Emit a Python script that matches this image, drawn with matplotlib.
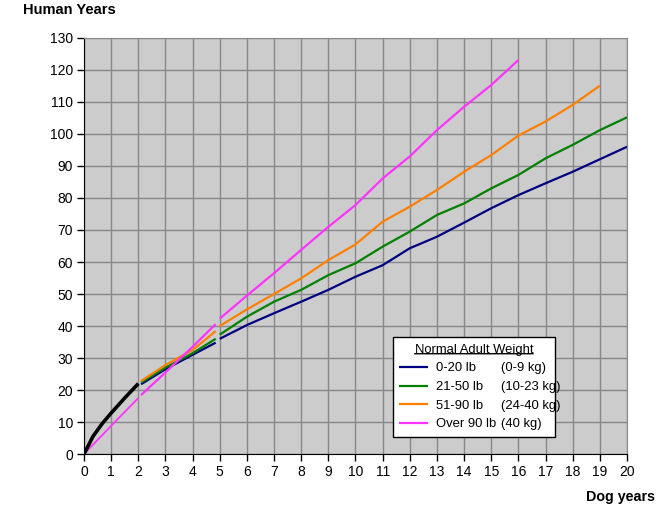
import numpy as np
import matplotlib
matplotlib.use("Agg")
from matplotlib import pyplot as plt

plt.rcParams['font.family'] = ['Liberation Sans', 'DejaVu Sans']
plt.rcParams['font.size'] = 10

# puppy years (shared by all sizes) and the thin giant-breed line below it
puppy_years = [0, 0.33, 0.67, 1, 1.5, 2]
puppy_human = [0, 5.5, 9.5, 12.8, 17.5, 22]
giant_pup_years = [0, 1, 2]
giant_pup_human = [0, 8.8, 17.5]

# adult segments: 2-5 years, then 5+ years (gap in between)
early_years = [2.1, 3, 4, 4.85]
late_years = list(range(5, 21))

small_early = [21.8, 26.5, 31, 34.8]
small_late = [36, 40.3, 44, 47.6, 51.3, 55.4, 59, 64.3, 67.9, 72.3, 76.8, 80.9,
              84.6, 88.2, 92.1, 96]

medium_early = [22.3, 27, 31.5, 36]
medium_late = [37.3, 42.9, 47.6, 51.3, 55.9, 59.6, 64.8, 69.5, 74.7, 78.3, 83,
               87.2, 92.4, 96.6, 101.2, 105.2]

large_early = [22.8, 27.8, 32.5, 38.4]
large_late = [40, 45.2, 50, 54.9, 60.6, 65.5, 72.6, 77.3, 82.5, 88.2, 93.4, 99.5,
              103.9, 109.1, 115.1]

giant_early = [18.4, 25.5, 33.5, 40.6]
giant_late = [42.3, 49.5, 56.5, 63.8, 71, 77.8, 86.1, 93, 101.2, 108.5, 115.3, 123.1]

sizes = ['0-20 lb', '21-50 lb', '51-90 lb', 'Over 90 lb']
kgs = ['(0-9 kg)', '(10-23 kg)', '(24-40 kg)', '(40 kg)']
colors = ['#000080', '#008000', '#FF8000', '#FF33FF']
early = [small_early, medium_early, large_early, giant_early]
late = [small_late, medium_late, large_late, giant_late]

fig = plt.figure(figsize=(6.71, 5.14), dpi=100)
ax = fig.add_axes([0.1252, 0.1167, 0.8092, 0.8094])
ax.set_facecolor('#CCCCCC')

ax.plot(giant_pup_years, giant_pup_human, color=colors[3], lw=1.3, zorder=3,
        solid_capstyle='butt')
ax.plot(puppy_years, puppy_human, color='black', lw=2.6, zorder=4,
        solid_capstyle='butt')

handles = []
for e, l, c, s in zip(early, late, colors, sizes):
    xs = early_years + [np.nan] + late_years[:len(l)]
    ys = e + [np.nan] + l
    h, = ax.plot(xs, ys, color=c, lw=1.6, label=s, zorder=3, solid_capstyle='butt')
    handles.append(h)

ax.set_xlim(0, 20)
ax.set_ylim(0, 130)
ax.set_xticks(range(0, 21))
ax.set_yticks(range(0, 131, 10))
ax.grid(True, color='#888888', lw=1)
ax.set_axisbelow(True)
ax.tick_params(direction='out', length=5, width=1, color='black', pad=3)
for side in ['top', 'right']:
    ax.spines[side].set_color('#888888')
for side in ['left', 'bottom']:
    ax.spines[side].set_color('black')

fig.text(23 / 671, 1 - 10 / 514, 'Human Years', fontweight='bold', va='center',
         ha='left', fontsize=10.5)
fig.text(655 / 671, 1 - 497 / 514, 'Dog years', fontweight='bold', va='center',
         ha='right', fontsize=10.3)

leg = ax.legend(handles=handles, title='Normal Adult Weight', loc='lower left',
                bbox_to_anchor=(0.569, 0.041, 0.298, 0.233), mode='expand',
                borderaxespad=0, fancybox=False, framealpha=1, edgecolor='black',
                handlelength=2.2, handletextpad=0.6, labelspacing=0.5,
                borderpad=0.5, fontsize=9.4, title_fontsize=9.4)
leg.get_frame().set_linewidth(1)

for txt, kg in zip(leg.get_texts(), kgs):
    ax.annotate(kg, xy=(0.667, 0.5), xycoords=(leg, txt), va='center', ha='left',
                zorder=6, fontsize=9.4)
title = leg.get_title()
ax.annotate('', xy=(0, 0.17), xycoords=title, xytext=(1, 0.17), textcoords=title,
            arrowprops=dict(arrowstyle='-', color='black', lw=1, shrinkA=0, shrinkB=0),
            zorder=6)

fig.savefig('out.png', dpi=100)
